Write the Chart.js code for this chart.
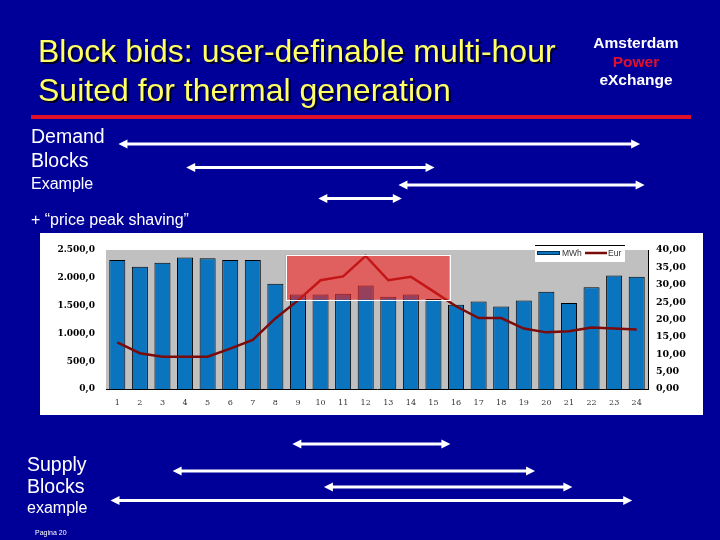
<!DOCTYPE html>
<html>
<head>
<meta charset="utf-8">
<script src="https://cdn.jsdelivr.net/npm/chart.js@4"></script>
<style>
  body { margin: 0; background: #000099; }
  #slide { position: relative; width: 720px; height: 540px; overflow: hidden; background: #000099; font-family: "Liberation Sans", Arial, sans-serif; }
  #slide canvas { position: absolute; left: 0; top: 0; }
  .t { position: absolute; white-space: nowrap; color: #fff; }
  .title { color: #ffff66; font-size: 32px; line-height: 32px; text-shadow: 2px 2px 0 #000022; }
  .logo { font-weight: bold; font-size: 15.5px; line-height: 15.5px; width: 120px; text-align: center; left: 576px; }
  .big { font-size: 19.5px; line-height: 19.5px; }
  .small { font-size: 16px; line-height: 16px; }
</style>
</head>
<body>
<div id="slide">
  <canvas id="blockChart" width="720" height="540"></canvas>

  <div class="t title" style="left:38px; top:35px;">Block bids: user-definable multi-hour</div>
  <div class="t title" style="left:38px; top:74px;">Suited for thermal generation</div>

  <div class="t logo" style="top:35px;">Amsterdam</div>
  <div class="t logo" style="top:54px; color:#e0102a;">Power</div>
  <div class="t logo" style="top:72px;">eXchange</div>

  <div style="position:absolute; left:31px; top:115px; width:660px; height:4px; background:#e0102a;"></div>

  <div class="t big" style="left:31px; top:127px;">Demand</div>
  <div class="t big" style="left:31px; top:151px;">Blocks</div>
  <div class="t small" style="left:31px; top:176px;">Example</div>
  <div class="t small" style="left:31px; top:212px;">+ “price peak shaving”</div>

  <div class="t big" style="left:27px; top:455px;">Supply</div>
  <div class="t big" style="left:27px; top:477px;">Blocks</div>
  <div class="t small" style="left:27px; top:500px;">example</div>
  <div class="t" style="left:35px; top:529px; font-size:7px; line-height:7px;">Pagina 20</div>
</div>

<script>
// uren van de dag
const hours = ["1", "2", "3", "4", "5", "6", "7", "8", "9", "10", "11", "12",
               "13", "14", "15", "16", "17", "18", "19", "20", "21", "22", "23", "24"];
// volume per uur (MWh)
const volumeMWh = [2320, 2200, 2270, 2365, 2350, 2320, 2320, 1895, 1700, 1700, 1715, 1860,
                   1660, 1700, 1620, 1515, 1575, 1485, 1590, 1750, 1545, 1830, 2040, 2020];
// prijs per uur (Eur)
const priceEur = [13.4, 10.3, 9.3, 9.25, 9.3, 11.6, 14.1, 20.3, 25.5, 31.3, 32.4, 38.3,
                  31.3, 32.3, 28.1, 23.8, 20.4, 20.4, 17.4, 16.3, 16.6, 17.7, 17.4, 17.1];

// tick labels
const mwhTicks = [0, 500, 1000, 1500, 2000, 2500];
const mwhTickLabels = ["0,0", "500,0", "1.000,0", "1.500,0", "2.000,0", "2.500,0"];
const eurTicks = [0, 5, 10, 15, 20, 25, 30, 35, 40];
const eurTickLabels = ["0,00", "5,00", "10,00", "15,00", "20,00", "25,00", "30,00", "35,00", "40,00"];

// price peak shaving box (uren, Eur)
const peakHours = [8.46, 15.7];
const peakPrices = [25.7, 38.6];

// block bids, van uur .. tot uur
const demandBlocks = [[1.05, 24.15], [4.05, 15.05], [13.45, 24.35], [9.9, 13.6]];
const supplyBlocks = [[8.75, 15.75], [3.45, 19.5], [10.15, 21.15], [0.7, 23.8]];

const demandRows = [144, 167.5, 185, 198.5];
const supplyRows = [444, 471, 487, 500.5];

function drawArrow(ctx, x0, x1, y) {
    const head = 9, half = 4.5;
    ctx.lineWidth = 3;
    ctx.beginPath();
    ctx.moveTo(x0 + head - 1, y);
    ctx.lineTo(x1 - head + 1, y);
    ctx.stroke();
    ctx.beginPath();
    ctx.moveTo(x0, y);
    ctx.lineTo(x0 + head, y - half);
    ctx.lineTo(x0 + head, y + half);
    ctx.closePath();
    ctx.fill();
    ctx.beginPath();
    ctx.moveTo(x1, y);
    ctx.lineTo(x1 - head, y - half);
    ctx.lineTo(x1 - head, y + half);
    ctx.closePath();
    ctx.fill();
}

const slideDecor = {
    id: "slideDecor",
    beforeDraw(chart) {
        const ctx = chart.ctx, a = chart.chartArea;
        ctx.save();
        ctx.fillStyle = "#ffffff";
        ctx.fillRect(40, 233, 663, 182);
        ctx.fillStyle = "#c0c0c0";
        ctx.fillRect(a.left, a.top, a.right - a.left, a.bottom - a.top);
        ctx.restore();
    },
    afterDatasetsDraw(chart) {
        const ctx = chart.ctx, x = chart.scales.x, y1 = chart.scales.y1;
        const l = x.getPixelForValue(peakHours[0] - 1);
        const r = x.getPixelForValue(peakHours[1] - 1);
        const t = y1.getPixelForValue(peakPrices[1]);
        const b = y1.getPixelForValue(peakPrices[0]);
        ctx.save();
        ctx.fillStyle = "rgba(245, 30, 30, 0.6)";
        ctx.fillRect(l, t, r - l, b - t);
        ctx.strokeStyle = "#ffffff";
        ctx.lineWidth = 1;
        ctx.strokeRect(Math.round(l) + 0.5, Math.round(t) + 0.5, Math.round(r - l), Math.round(b - t));
        ctx.restore();
    },
    afterDraw(chart) {
        const ctx = chart.ctx, a = chart.chartArea, x = chart.scales.x;
        const ds = chart.data.datasets;

        // legenda
        const lx = a.right - 113, ly = a.top - 5;
        ctx.save();
        ctx.fillStyle = "#ffffff";
        ctx.fillRect(lx, ly, 90, 17);
        ctx.strokeStyle = "#000";
        ctx.lineWidth = 1;
        ctx.beginPath();
        ctx.moveTo(lx, ly + 0.5);
        ctx.lineTo(lx + 90, ly + 0.5);
        ctx.stroke();
        ctx.fillStyle = ds[0].backgroundColor;
        ctx.fillRect(lx + 2, ly + 6, 23, 4);
        ctx.strokeStyle = "#003355";
        ctx.strokeRect(lx + 2.5, ly + 6.5, 22, 3);
        ctx.font = "8.5px 'Liberation Sans', Arial, sans-serif";
        ctx.fillStyle = "#333";
        ctx.textBaseline = "middle";
        ctx.fillText(ds[0].label, lx + 27, ly + 8.5);
        ctx.strokeStyle = ds[1].borderColor;
        ctx.lineWidth = 2.5;
        ctx.beginPath();
        ctx.moveTo(lx + 50, ly + 8);
        ctx.lineTo(lx + 72, ly + 8);
        ctx.stroke();
        ctx.fillText(ds[1].label, lx + 73, ly + 8.5);

        // block bid pijlen
        ctx.fillStyle = "#ffffff";
        ctx.strokeStyle = "#ffffff";
        demandBlocks.forEach((blk, i) => {
            drawArrow(ctx, x.getPixelForValue(blk[0] - 1), x.getPixelForValue(blk[1] - 1), demandRows[i]);
        });
        supplyBlocks.forEach((blk, i) => {
            drawArrow(ctx, x.getPixelForValue(blk[0] - 1), x.getPixelForValue(blk[1] - 1), supplyRows[i]);
        });
        ctx.restore();
    },
};

document.addEventListener("DOMContentLoaded", () => {
    const el = document.getElementById("blockChart");
    new Chart(el.getContext("2d"), {
        data: {
            labels: hours,
            datasets: [
                {
                    type: "bar",
                    label: "MWh",
                    data: volumeMWh,
                    yAxisID: "y",
                    backgroundColor: "#0a74be",
                    borderColor: "#000000",
                    borderWidth: 1,
                    categoryPercentage: 1,
                    barPercentage: 0.71,
                    order: 2,
                },
                {
                    type: "line",
                    label: "Eur",
                    data: priceEur,
                    yAxisID: "y1",
                    borderColor: "#7b0a0a",
                    borderWidth: 2.5,
                    pointRadius: 0,
                    tension: 0,
                    fill: false,
                    order: 1,
                },
            ],
        },
        options: {
            responsive: false,
            animation: false,
            devicePixelRatio: 1,
            layout: { padding: { left: 40, right: 17, top: 250, bottom: 125 } },
            plugins: {
                legend: { display: false },
                tooltip: { enabled: false },
            },
            scales: {
                x: {
                    grid: { display: false, drawTicks: false },
                    border: { display: true, color: "#000" },
                    ticks: {
                        padding: 9,
                        color: "#333",
                        maxRotation: 0,
                        autoSkip: false,
                        font: { family: "'DejaVu Serif', serif", size: 8 },
                    },
                    afterFit(scale) { scale.height = 26; },
                },
                y: {
                    position: "left",
                    min: 0,
                    max: 2500,
                    afterBuildTicks(scale) { scale.ticks = mwhTicks.map(v => ({ value: v })); },
                    grid: { display: false, drawTicks: false },
                    border: { display: false },
                    ticks: {
                        padding: 11,
                        color: "#000",
                        font: { family: "'DejaVu Serif', serif", size: 9, weight: "bold" },
                        callback: v => mwhTickLabels[mwhTicks.indexOf(v)],
                    },
                    afterFit(scale) { scale.width = 66; },
                },
                y1: {
                    position: "right",
                    min: 0,
                    max: 40,
                    afterBuildTicks(scale) { scale.ticks = eurTicks.map(v => ({ value: v })); },
                    grid: { display: false, drawTicks: false },
                    border: { display: true, color: "#000" },
                    ticks: {
                        padding: 8,
                        color: "#000",
                        font: { family: "'DejaVu Serif', serif", size: 9.5, weight: "bold" },
                        callback: v => eurTickLabels[eurTicks.indexOf(v)],
                    },
                    afterFit(scale) { scale.width = 55; },
                },
            },
        },
        plugins: [slideDecor],
    });
});
</script>
</body>
</html>
